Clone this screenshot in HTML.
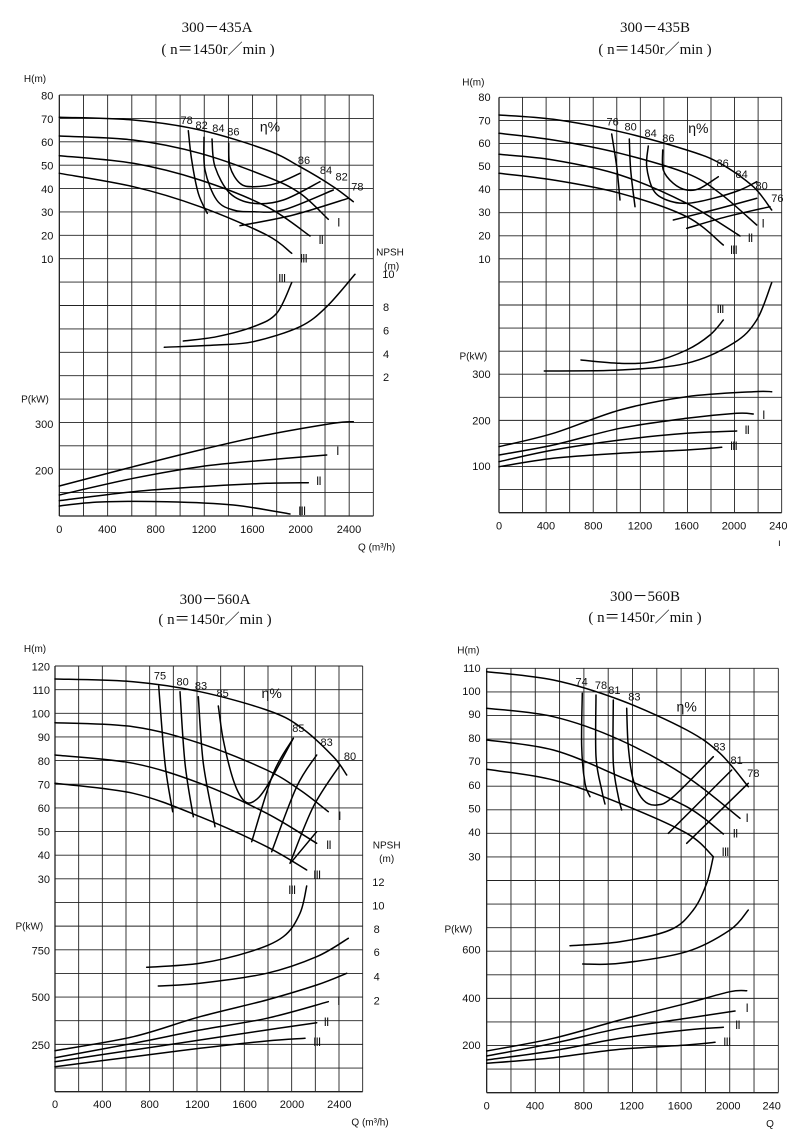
<!DOCTYPE html>
<html><head><meta charset="utf-8"><style>
html,body{margin:0;padding:0;background:#fff;}
svg{display:block;}
text{font-family:"Liberation Sans",sans-serif;fill:#111;}
.t{font-family:"Liberation Serif",serif;font-size:15px;}
</style></head><body>
<svg id="s" width="800" height="1139" viewBox="0 0 800 1139" xmlns="http://www.w3.org/2000/svg">
<rect width="800" height="1139" fill="#fff"/>
<text class="t" x="217" y="32" text-anchor="middle">300－435A</text>
<text class="t" x="218" y="54" text-anchor="middle">( n＝1450r／min )</text>
<text class="t" x="655" y="32" text-anchor="middle">300－435B</text>
<text class="t" x="655" y="54" text-anchor="middle">( n＝1450r／min )</text>
<text class="t" x="215" y="604" text-anchor="middle">300－560A</text>
<text class="t" x="215" y="624" text-anchor="middle">( n＝1450r／min )</text>
<text class="t" x="645" y="601" text-anchor="middle">300－560B</text>
<text class="t" x="645" y="622" text-anchor="middle">( n＝1450r／min )</text>
</svg>
<script>
var S=document.getElementById('s'),NS='http://www.w3.org/2000/svg';
function el(n,a,t){var e=document.createElementNS(NS,n);for(var k in a)e.setAttribute(k,a[k]);if(t!=null)e.textContent=t;S.appendChild(e);return e;}
function path(pts){var d='M'+pts[0][0].toFixed(1)+' '+pts[0][1].toFixed(1);
 for(var i=0;i<pts.length-1;i++){var p0=pts[i-1]||pts[i],p1=pts[i],p2=pts[i+1],p3=pts[i+2]||p2;
 var c1=[p1[0]+(p2[0]-p0[0])/6,p1[1]+(p2[1]-p0[1])/6],c2=[p2[0]-(p3[0]-p1[0])/6,p2[1]-(p3[1]-p1[1])/6];
 d+=' C'+c1[0].toFixed(1)+' '+c1[1].toFixed(1)+' '+c2[0].toFixed(1)+' '+c2[1].toFixed(1)+' '+p2[0].toFixed(1)+' '+p2[1].toFixed(1);}
 return d;}
function chart(c){
 var ox=c.ox,oy=c.oy;function X(v){return ox+v/3;}function Y(v){return oy+v/3;}
 var cw=(c.R-c.L)/c.nc,rh=(c.B-c.T)/18;
 for(var i=0;i<=c.nc;i++){var x=X(c.L+i*cw);el('line',{x1:x,y1:Y(c.T),x2:x,y2:Y(c.B),stroke:'#222','stroke-width':i==0?1.3:0.9});}
 for(var j=0;j<=18;j++){var y=Y(c.T+j*rh);el('line',{x1:X(c.L),y1:y,x2:X(c.R),y2:y,stroke:'#222','stroke-width':j==18?1.3:0.9});}
 c.curves.forEach(function(p){el('path',{d:path(p.map(function(q){return[X(q[0]),Y(q[1])];})),fill:'none',stroke:'#000','stroke-width':1.5,'stroke-linecap':'round'});});
 c.texts.forEach(function(t){var a={x:X(t[0]),y:Y(t[1]),'font-size':t[3]||11,'text-anchor':t[4]||'middle','dominant-baseline':'middle'};
  if(/^I+$/.test(t[2])){a['font-family']='Liberation Serif, serif';a['font-size']=12;a['letter-spacing']='-1';}
  el('text',a,t[2]);});
}
chart({ox:0,oy:60,L:178,R:1120,T:105,B:1368,nc:13,
curves:[
[[178,172],[400,180],[600,210],[800,270],[900,320],[1000,380],[1060,425]],
[[178,228],[400,240],[600,280],[800,350],[900,400],[985,478]],
[[178,287],[400,310],[600,360],[800,440],[930,528]],
[[178,340],[400,380],[600,440],[800,525],[875,580]],
[[565,212],[575,300],[595,400],[622,460]],
[[612,232],[615,330],[650,420],[700,450],[760,455],[850,450],[1000,390]],
[[636,237],[645,320],[690,400],[760,430],[850,420],[960,365]],
[[686,250],[690,320],[720,370],[760,380],[830,370],[900,340]],
[[720,497],[880,465],[1045,415]],
[[550,843],[650,830],[760,800],[830,760],[875,668]],
[[493,862],[650,855],[760,845],[900,800],[980,740],[1065,643]],
[[178,1278],[400,1220],[600,1170],[800,1125],[1000,1090],[1060,1085]],
[[178,1305],[400,1255],[600,1220],[800,1200],[980,1185]],
[[178,1322],[400,1295],[600,1280],[800,1270],[925,1268]],
[[178,1338],[300,1326],[500,1325],[700,1335],[870,1362]]],
texts:[[560,183,'78'],[605,198,'82'],[655,208,'84'],[700,218,'86'],[810,203,'η%',14],[912,303,'86'],[978,333,'84'],[1025,353,'82'],[1072,383,'78'],
[1015,490,'I'],[962,543,'II'],[910,598,'III'],[845,658,'III'],[1012,1176,'I'],[955,1266,'II'],[905,1355,'III'],
[1170,578,'NPSH',10],[1175,620,'(m)',10],[1165,645,'10'],[1158,745,'8'],[1158,815,'6'],[1158,885,'4'],[1158,955,'2'],
[105,58,'H(m)',10],[160,110,'80',11,'end'],[160,180,'70',11,'end'],[160,250,'60',11,'end'],[160,320,'50',11,'end'],[160,390,'40',11,'end'],[160,460,'30',11,'end'],[160,530,'20',11,'end'],[160,600,'10',11,'end'],
[105,1020,'P(kW)',10],[160,1095,'300',11,'end'],[160,1235,'200',11,'end'],
[178,1410,'0'],[322,1410,'400'],[467,1410,'800'],[612,1410,'1200'],[757,1410,'1600'],[902,1410,'2000'],[1047,1410,'2400'],[1130,1463,'Q  (m³/h)',10]]});
chart({ox:420,oy:60,L:237,R:1085,T:112,B:1358,nc:12,
curves:[
[[237,165],[400,178],[600,215],[800,270],[900,310],[1000,380],[1055,450]],
[[237,220],[400,240],[600,280],[800,340],[900,400],[1010,495]],
[[237,283],[400,300],[600,345],[800,430],[960,528]],
[[237,340],[400,360],[600,400],[800,470],[910,555]],
[[575,222],[590,320],[600,420]],[[628,237],[632,330],[645,440]],
[[685,258],[680,320],[700,390],[740,420],[800,430],[880,415],[960,390],[1010,365]],
[[728,270],[730,330],[760,370],[800,390],[840,385],[895,350]],
[[760,480],[880,450],[1010,415]],[[800,505],[920,470],[1050,440]],
[[483,900],[600,910],[700,905],[800,870],[870,825],[910,780]],
[[373,933],[600,930],[800,910],[940,850],[1010,780],[1055,668]],
[[237,1160],[400,1120],[600,1050],[800,1010],[1000,995],[1055,995]],
[[237,1185],[400,1155],[600,1105],[800,1075],[950,1060],[1000,1062]],
[[237,1205],[400,1170],[600,1140],[800,1120],[950,1113]],
[[237,1220],[400,1195],[600,1180],[800,1170],[905,1162]]],
texts:[[578,188,'76'],[632,203,'80'],[692,223,'84'],[745,238,'86'],[835,208,'η%',14],[908,313,'86'],[965,346,'84'],[1025,380,'80'],[1072,418,'76'],
[1028,493,'I'],[990,536,'II'],[940,573,'III'],[900,750,'III'],[1030,1068,'I'],[980,1113,'II'],[940,1161,'III'],
[160,68,'H(m)',10],[212,115,'80',11,'end'],[212,185,'70',11,'end'],[212,253,'60',11,'end'],[212,322,'50',11,'end'],[212,391,'40',11,'end'],[212,460,'30',11,'end'],[212,530,'20',11,'end'],[212,600,'10',11,'end'],
[160,890,'P(kW)',10],[212,945,'300',11,'end'],[212,1085,'200',11,'end'],[212,1222,'100',11,'end'],
[237,1400,'0'],[378,1400,'400'],[520,1400,'800'],[660,1400,'1200'],[800,1400,'1600'],[942,1400,'2000'],[1075,1400,'240'],[1078,1450,'ı',10]]});
chart({ox:0,oy:630,L:165,R:1088,T:108,B:1385,nc:13,
curves:[
[[165,147],[400,155],[600,185],[800,240],[900,290],[1000,380],[1040,435]],
[[165,278],[400,290],[600,340],[800,420],[900,480],[985,545]],
[[165,375],[400,400],[600,460],[800,550],[950,640]],
[[165,460],[400,490],[600,560],[800,650],[920,720]],
[[476,168],[495,400],[518,545]],[[540,185],[555,400],[580,560]],[[595,200],[610,400],[645,590]],
[[655,228],[670,330],[700,450],[730,510],[760,515],[800,470],[880,325]],
[[950,375],[890,470],[815,665]],[[1020,405],[940,530],[870,700]],[[880,325],[820,430],[755,635]],[[950,605],[875,695]],
[[920,768],[900,850],[850,920],[750,965],[600,1000],[440,1012]],
[[475,1068],[600,1060],[800,1030],[950,980],[1045,925]],
[[165,1262],[400,1220],[600,1160],[800,1110],[950,1065],[1040,1030]],
[[165,1283],[400,1240],[600,1200],[800,1165],[985,1115]],
[[165,1295],[400,1260],[600,1230],[800,1200],[950,1178]],
[[165,1310],[400,1280],[600,1255],[800,1233],[915,1225]]],
texts:[[480,140,'75'],[548,158,'80'],[603,170,'83'],[668,193,'85'],[815,193,'η%',14],[895,298,'85'],[980,340,'83'],[1050,381,'80'],
[1018,560,'I'],[985,648,'II'],[950,738,'III'],[875,783,'III'],[1015,1116,'I'],[978,1178,'II'],[950,1238,'III'],
[1160,648,'NPSH',10],[1160,688,'(m)',10],[1135,760,'12'],[1135,830,'10'],[1130,900,'8'],[1130,970,'6'],[1130,1043,'4'],[1130,1115,'2'],
[105,58,'H(m)',10],
[150,113,'120',11,'end'],[150,184,'110',11,'end'],[150,254,'100',11,'end'],[150,325,'90',11,'end'],[150,396,'80',11,'end'],[150,467,'70',11,'end'],[150,538,'60',11,'end'],[150,608,'50',11,'end'],[150,679,'40',11,'end'],[150,750,'30',11,'end'],
[88,890,'P(kW)',10],[150,965,'750',11,'end'],[150,1105,'500',11,'end'],[150,1248,'250',11,'end'],
[165,1425,'0'],[307,1425,'400'],[449,1425,'800'],[592,1425,'1200'],[734,1425,'1600'],[876,1425,'2000'],[1018,1425,'2400'],[1110,1478,'Q  (m³/h)',10]]});
chart({ox:420,oy:630,L:200,R:1075,T:115,B:1388,nc:12,
curves:[
[[200,125],[400,150],[600,210],[800,300],[900,370],[985,470]],
[[200,235],[400,260],[600,330],[800,440],[960,565]],
[[200,330],[400,360],[600,440],[800,530],[910,612]],
[[200,418],[400,450],[600,520],[800,610],[880,680]],
[[487,190],[485,350],[495,460],[510,500]],[[528,195],[528,380],[545,480],[555,522]],[[580,210],[580,400],[595,500],[605,540]],
[[620,235],[625,350],[640,450],[670,510],[710,525],[760,500],[880,380]],
[[935,420],[745,610]],[[985,460],[800,640]],
[[880,680],[860,760],[820,840],[750,900],[600,935],[450,947]],
[[488,1002],[600,1000],[800,965],[930,900],[985,840]],
[[200,1263],[400,1225],[600,1170],[800,1120],[930,1085],[980,1082]],
[[200,1278],[400,1240],[600,1195],[800,1165],[945,1143]],
[[200,1290],[400,1262],[600,1225],[800,1200],[910,1192]],
[[200,1300],[400,1283],[600,1258],[800,1245],[885,1237]]],
texts:[[485,158,'74'],[543,168,'78'],[583,183,'81'],[643,203,'83'],[800,233,'η%',14],[898,353,'83'],[950,393,'81'],[1000,433,'78'],
[980,566,'I'],[945,613,'II'],[915,668,'III'],[980,1136,'I'],[952,1188,'II'],[920,1238,'III'],
[145,62,'H(m)',10],
[182,118,'110',11,'end'],[182,186,'100',11,'end'],[182,256,'90',11,'end'],[182,327,'80',11,'end'],[182,397,'70',11,'end'],[182,468,'60',11,'end'],[182,539,'50',11,'end'],[182,610,'40',11,'end'],[182,683,'30',11,'end'],
[115,900,'P(kW)',10],[182,962,'600',11,'end'],[182,1108,'400',11,'end'],[182,1248,'200',11,'end'],
[200,1430,'0'],[345,1430,'400'],[490,1430,'800'],[635,1430,'1200'],[780,1430,'1600'],[925,1430,'2000'],[1055,1430,'240'],[1050,1483,'Q',10]]});
</script>
</body></html>
